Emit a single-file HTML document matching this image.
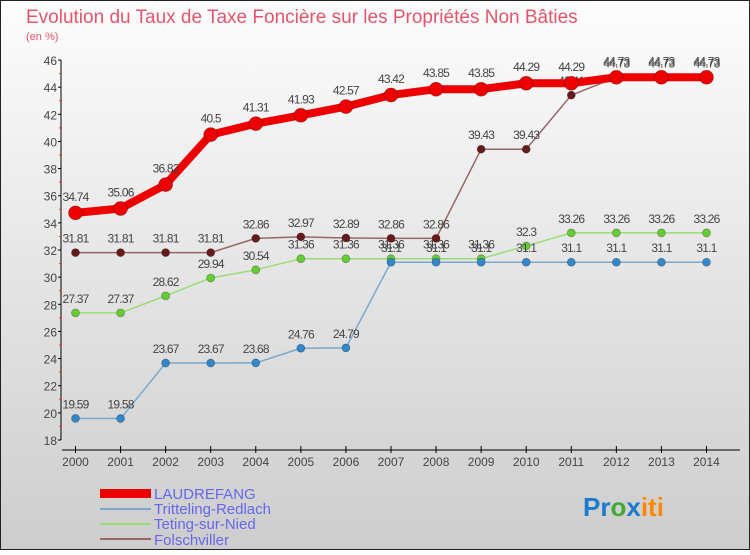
<!DOCTYPE html>
<html><head><meta charset="utf-8"><style>
body{margin:0;width:750px;height:550px;overflow:hidden;font-family:"Liberation Sans",sans-serif}
</style></head><body>
<svg width="750" height="550" xmlns="http://www.w3.org/2000/svg">
<defs><linearGradient id="bg" x1="0" y1="0" x2="0" y2="1"><stop offset="0" stop-color="#fdfdfd"/><stop offset="1" stop-color="#cdcdcd"/></linearGradient></defs>
<rect x="0.5" y="0.5" width="749" height="549" fill="url(#bg)" stroke="#222"/>
<text x="26" y="23" font-size="19" fill="#e8556a">Evolution du Taux de Taxe Foncière sur les Propriétés Non Bâties</text>
<text x="26" y="40" font-size="11" fill="#e8556a">(en %)</text>
<g id="axes"></g><g id="series"></g>
<g font-size="15" fill="#6666ee">
<rect x="100" y="489" width="51" height="9" fill="#e00"/>
<text x="154" y="499">LAUDREFANG</text>
<line x1="100" y1="509" x2="151" y2="509" stroke="#7aa8cc" stroke-width="2"/>
<text x="154" y="514">Tritteling-Redlach</text>
<line x1="100" y1="524" x2="151" y2="524" stroke="#99dd77" stroke-width="2"/>
<text x="154" y="529">Teting-sur-Nied</text>
<line x1="100" y1="539" x2="151" y2="539" stroke="#996666" stroke-width="2"/>
<text x="154" y="545">Folschviller</text>
</g>
<text x="583" y="516" font-size="26" font-weight="bold"><tspan fill="#1a7acc">Pr</tspan><tspan fill="#44aa33">o</tspan><tspan fill="#1a7acc">x</tspan><tspan fill="#ff8800">iti</tspan></text>
</svg>
<script>
const years=[2000,2001,2002,2003,2004,2005,2006,2007,2008,2009,2010,2011,2012,2013,2014];
const yTicks=[18,20,22,24,26,28,30,32,34,36,38,40,42,44,46];
const laudrefang=[34.74,35.06,36.82,40.5,41.31,41.93,42.57,43.42,43.85,43.85,44.29,44.29,44.73,44.73,44.73];
const tritteling=[19.59,19.58,23.67,23.67,23.68,24.76,24.79,31.1,31.1,31.1,31.1,31.1,31.1,31.1,31.1];
const teting=[27.37,27.37,28.62,29.94,30.54,31.36,31.36,31.36,31.36,31.36,32.3,33.26,33.26,33.26,33.26];
const folschviller=[31.81,31.81,31.81,31.81,32.86,32.97,32.89,32.86,32.86,39.43,39.43,43.41,44.73,44.73,44.73];
const NS="http://www.w3.org/2000/svg";
const X=i=>75.5+i*45.07;
const Y=v=>440-(v-18)*13.57;
function mk(t,a,p){const e=document.createElementNS(NS,t);for(const k in a)e.setAttribute(k,a[k]);p.appendChild(e);return e;}
const ax=document.getElementById('axes');
let yl=mk('line',{x1:61,y1:60,x2:61,y2:440,stroke:'#000'},ax);


yTicks.forEach(v=>{
 mk('line',{x1:58,y1:Y(v),x2:61,y2:Y(v),stroke:'#000'},ax);
 if(v<46)mk('line',{x1:59,y1:Y(v+1),x2:62,y2:Y(v+1),stroke:'#e33'},ax);
 const t=mk('text',{x:57,y:Y(v)+5,'font-size':12,fill:'#444','text-anchor':'end'},ax);t.textContent=v;
 
 
});
let xl=mk('line',{x1:62,y1:450,x2:740,y2:450,stroke:'#000'},ax);


years.forEach((y,i)=>{
 mk('line',{x1:X(i),y1:446,x2:X(i),y2:453,stroke:'#000'},ax);
 const t=mk('text',{x:X(i),y:466,'font-size':12,fill:'#444','text-anchor':'middle'},ax);t.textContent=y;
 
 
});
const sg=document.getElementById('series');
function series(d,name,line,dot,w,r,lblOff){
 const g=mk('g',{},sg);
 
 
 const pl=mk('polyline',{points:d.map((v,i)=>X(i)+','+Y(v)).join(' '),fill:'none',stroke:line,'stroke-width':w,'stroke-linejoin':'round'},g);
 
 
 d.forEach((v,i)=>{
  const c=mk('circle',{cx:X(i),cy:Y(v),r:r,fill:dot,stroke:'rgba(0,0,0,0.3)','stroke-width':0.8},g);
  
  
  const t=mk('text',{x:X(i),y:Y(v)-lblOff,'font-size':12,fill:'#444','text-anchor':'middle','letter-spacing':'-0.8'},g);t.textContent=v;
  
  
 });
}
series(folschviller,'folschviller','#996666','#661a1a',1.5,4,10);
series(teting,'teting','#99dd77','#66cc33',1.5,4,10);
series(tritteling,'tritteling','#7aa8cc','#3388cc',1.5,4,10);
series(laudrefang,'laudrefang','#ee0000','#ee0000',8,7,12);
</script>
</body></html>
